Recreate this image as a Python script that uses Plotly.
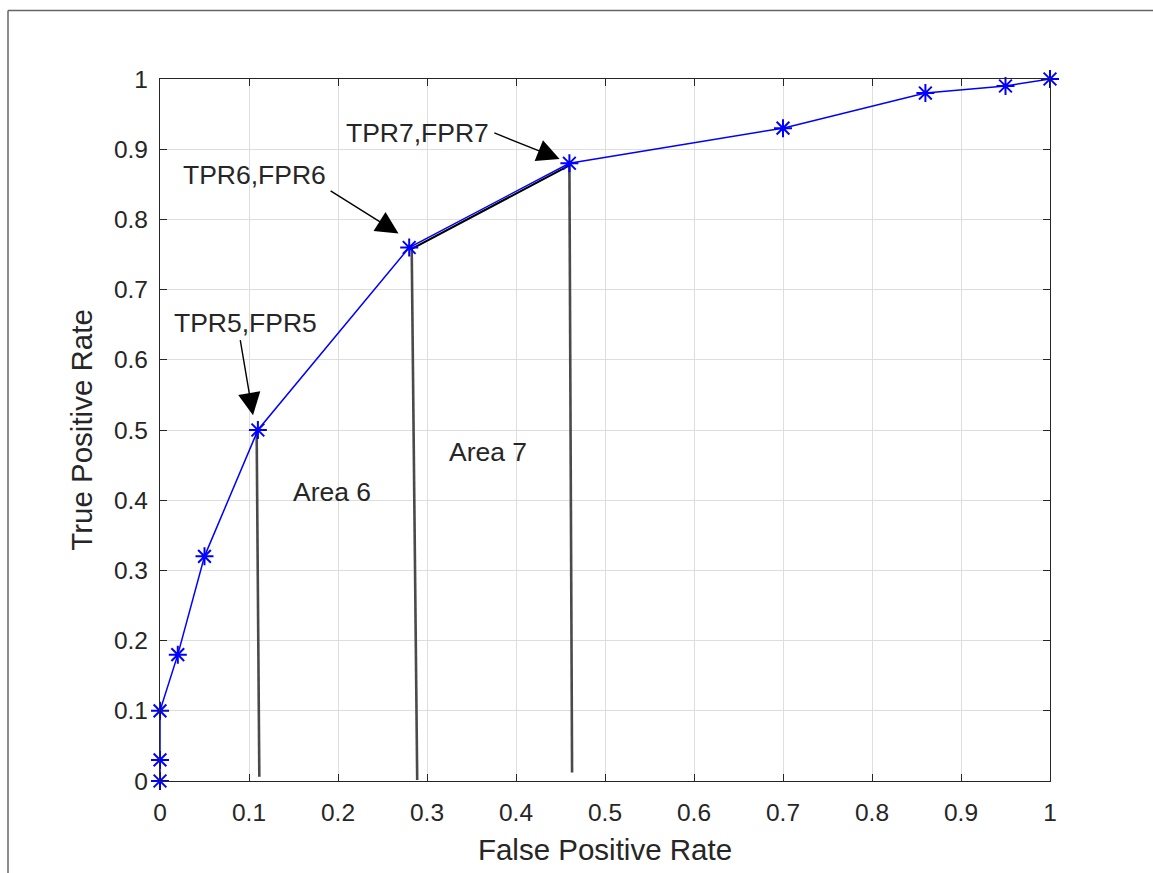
import plotly.graph_objects as go

# ROC curve points
fpr = [0, 0, 0, 0.02, 0.05, 0.11, 0.28, 0.46, 0.70, 0.86, 0.95, 1.0]
tpr = [0, 0.03, 0.10, 0.18, 0.32, 0.50, 0.76, 0.88, 0.93, 0.98, 0.99, 1.0]

# vertical "area" lines (top x, top y, bottom x, bottom y)
vline_x_top = [0.1086, 0.2828, 0.460]
vline_y_top = [0.50, 0.761, 0.880]
vline_x_bot = [0.1116, 0.289, 0.463]
vline_y_bot = [0.006, 0.0015, 0.012]

# black chord segment between point 6 and 7
chord_x = [0.2828, 0.460]
chord_y = [0.758, 0.877]

# annotation labels with arrows
arrow_labels = ["TPR5,FPR5", "TPR6,FPR6", "TPR7,FPR7"]
label_x = [0.0955, 0.1067, 0.2893]
label_y = [0.652, 0.863, 0.923]
arrow_tail_x = [0.0899, 0.190, 0.374]
arrow_tail_y = [0.630, 0.842, 0.924]
arrow_tip_x = [0.1045, 0.268, 0.449]
arrow_tip_y = [0.521, 0.780, 0.886]

area_labels = ["Area 6", "Area 7"]
area_x = [0.193, 0.3685]
area_y = [0.412, 0.4687]

x_ticks = [0, 0.1, 0.2, 0.3, 0.4, 0.5, 0.6, 0.7, 0.8, 0.9, 1]
x_tick_text = ["0", "0.1", "0.2", "0.3", "0.4", "0.5", "0.6", "0.7", "0.8", "0.9", "1"]
y_ticks = x_ticks
y_tick_text = x_tick_text

TXT = "#262626"
FONT = "Liberation Sans, Arial, Helvetica, sans-serif"

fig = go.Figure()

for i in range(len(vline_x_top)):
    fig.add_trace(go.Scatter(
        x=[vline_x_top[i], vline_x_bot[i]], y=[vline_y_top[i], vline_y_bot[i]],
        mode="lines", line=dict(color="#4a4a4a", width=2.6),
        showlegend=False, hoverinfo="skip"))

fig.add_trace(go.Scatter(x=chord_x, y=chord_y, mode="lines",
                         line=dict(color="black", width=2.2),
                         showlegend=False, hoverinfo="skip"))

fig.add_trace(go.Scatter(
    x=fpr, y=tpr, mode="lines+markers", cliponaxis=False,
    line=dict(color="#0000ff", width=1.5),
    marker=dict(symbol="asterisk-open", size=15, color="#0000ff",
                line=dict(color="#0000ff", width=2)),
    showlegend=False))

annotations = []
for i in range(len(arrow_labels)):
    annotations.append(dict(
        x=label_x[i], y=label_y[i], xref="x", yref="y", text=arrow_labels[i],
        showarrow=False, font=dict(family=FONT, size=26.5, color=TXT)))
    annotations.append(dict(
        x=arrow_tip_x[i], y=arrow_tip_y[i], xref="x", yref="y",
        ax=arrow_tail_x[i], ay=arrow_tail_y[i], axref="x", ayref="y",
        text="", showarrow=True, arrowhead=2, arrowsize=3.2, arrowwidth=1.4,
        arrowcolor="black", standoff=0, startstandoff=0))
for i in range(len(area_labels)):
    annotations.append(dict(
        x=area_x[i], y=area_y[i], xref="x", yref="y", text=area_labels[i],
        showarrow=False, font=dict(family=FONT, size=26.5, color=TXT)))

L, T = 160, 79
PW, PH = 890, 702
def px2paper_x(px):
    return (px - L) / PW
def px2paper_y(py):
    return (T + PH - py) / PH

shapes = [
    dict(type="line", xref="paper", yref="paper",
         x0=px2paper_x(8), y0=px2paper_y(10.5), x1=px2paper_x(1160), y1=px2paper_y(10.5),
         line=dict(color="#666666", width=1.5)),
    dict(type="line", xref="paper", yref="paper",
         x0=px2paper_x(8), y0=px2paper_y(10.5), x1=px2paper_x(8), y1=px2paper_y(880),
         line=dict(color="#666666", width=1.5)),
]

axis_common = dict(
    showgrid=True, gridcolor="#dedede", gridwidth=1, automargin=False,
    showline=True, linecolor=TXT, linewidth=1.2, mirror="allticks",
    ticks="inside", ticklen=7, tickcolor=TXT, tickwidth=1.2,
    zeroline=False, tickfont=dict(family=FONT, size=24.5, color=TXT),
)

fig.update_layout(
    width=1153, height=873,
    margin=dict(l=L, r=1153 - L - PW, t=T, b=873 - T - PH),
    paper_bgcolor="white", plot_bgcolor="white",
    xaxis=dict(range=[0, 1], tickvals=x_ticks, ticktext=x_tick_text,
               title=dict(text="False Positive Rate", standoff=14,
                          font=dict(family=FONT, size=29.5, color=TXT)),
               ticklabelstandoff=9, **axis_common),
    yaxis=dict(range=[0, 1], tickvals=y_ticks, ticktext=y_tick_text,
               title=dict(text="True Positive Rate", standoff=12,
                          font=dict(family=FONT, size=29.5, color=TXT)),
               ticklabelstandoff=6, **axis_common),
    annotations=annotations, shapes=shapes,
)

fig.write_html("out.html")
